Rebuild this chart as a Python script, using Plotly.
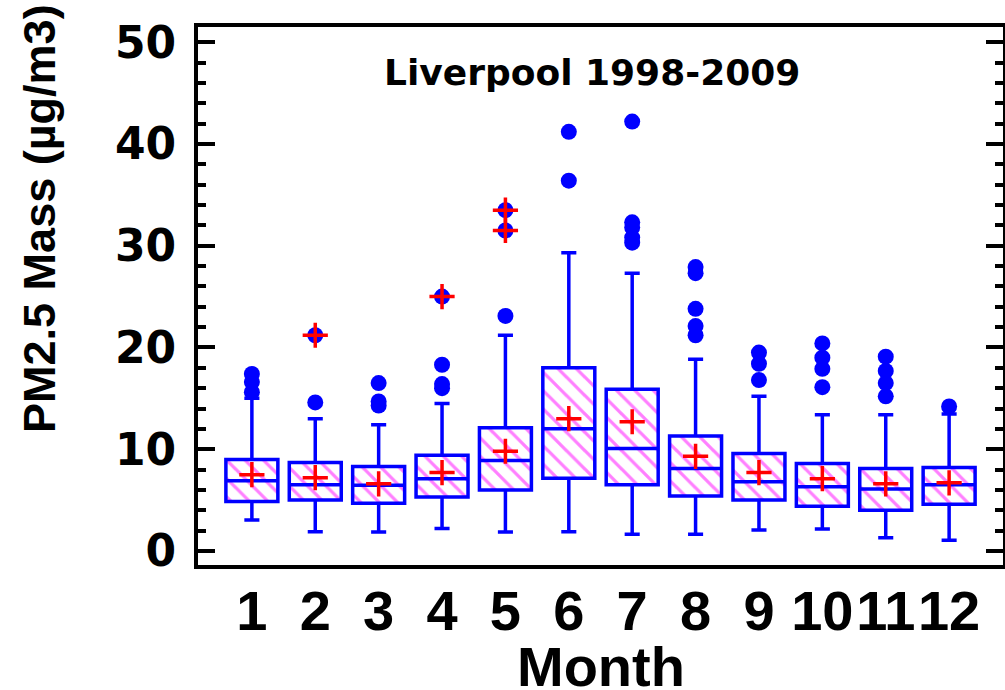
import plotly.graph_objects as go

# ---- data ----
months = [1, 2, 3, 4, 5, 6, 7, 8, 9, 10, 11, 12]
month_labels = ["1", "2", "3", "4", "5", "6", "7", "8", "9", "10", "11", "12"]
q1 = [4.85, 5.0, 4.7, 5.3, 6.0, 7.15, 6.5, 5.4, 5.0, 4.4, 4.0, 4.6]
median = [6.9, 6.5, 6.45, 7.1, 8.9, 12.0, 10.06, 8.1, 6.8, 6.3, 6.1, 6.5]
q3 = [9.0, 8.7, 8.3, 9.4, 12.1, 18.0, 15.9, 11.3, 9.57, 8.6, 8.1, 8.2]
whisker_low = [3.05, 1.9, 1.87, 2.2, 1.87, 1.9, 1.64, 1.64, 2.06, 2.16, 1.3, 1.05]
whisker_high = [15.0, 13.0, 12.4, 14.5, 21.2, 29.3, 27.3, 18.85, 15.2, 13.4, 13.4, 13.45]
means = [7.5, 7.2, 6.6, 7.7, 9.8, 13.0, 12.7, 9.3, 7.7, 7.1, 6.6, 6.7]

outliers = {
    1: [17.4, 16.6, 15.6],
    2: [21.2, 14.6],
    3: [16.5, 14.7, 14.3],
    4: [25.0, 18.3, 16.4, 16.0],
    5: [33.5, 31.5, 23.1],
    6: [41.2, 36.4],
    7: [42.2, 32.3, 31.8, 30.8, 30.3],
    8: [27.9, 27.3, 23.8, 22.1, 21.2],
    9: [19.5, 18.4, 16.8],
    10: [20.4, 19.0, 17.9, 16.1],
    11: [19.1, 17.7, 16.5, 15.2],
    12: [14.2],
}
# outliers that also carry a red cross in the reference
marked_months = [2, 4, 5, 5]
marked_values = [21.2, 25.0, 33.5, 31.5]

title_text = "Liverpool 1998-2009"
y_title = "PM2.5 Mass (µg/m3)"
x_title = "Month"

# ---- figure ----
BLUE = "#0000FF"
box_w = 0.82
y_range = [-1.38, 51.5]

fig = go.Figure()

# hatched box interiors
fig.add_trace(go.Bar(
    x=months,
    y=[b - a for a, b in zip(q1, q3)],
    base=q1,
    width=box_w,
    marker=dict(color="white",
                line=dict(width=0),
                pattern=dict(shape="\\", fgcolor="#FF00FF", bgcolor="white",
                             size=13, solidity=0.25)),
    showlegend=False, hoverinfo="skip",
))

# box outlines, medians and whiskers
fig.add_trace(go.Box(
    x=months, q1=q1, median=median, q3=q3,
    lowerfence=whisker_low, upperfence=whisker_high,
    width=box_w, whiskerwidth=0.29,
    line=dict(color=BLUE, width=3.5),
    fillcolor="rgba(0,0,0,0)",
    boxpoints=False, showlegend=False, hoverinfo="skip",
))

ox, oy = [], []
for m in months:
    for v in outliers[m]:
        ox.append(m)
        oy.append(v)
fig.add_trace(go.Scatter(
    x=ox, y=oy, mode="markers",
    marker=dict(symbol="circle", size=16, color=BLUE, line=dict(width=0)),
    showlegend=False,
))

cross_marker = dict(symbol="cross-thin", size=18, color="red",
                    line=dict(color="red", width=3.5))
fig.add_trace(go.Scatter(x=months, y=means, mode="markers",
                         marker=cross_marker, showlegend=False))
fig.add_trace(go.Scatter(x=marked_months, y=marked_values, mode="markers",
                         marker=cross_marker, showlegend=False))

# invisible trace so the right-hand tick axis is drawn
fig.add_trace(go.Scatter(x=[months[0]], y=[means[0]], yaxis="y2", mode="markers",
                         marker=dict(opacity=0), showlegend=False, hoverinfo="skip"))

tick_common = dict(
    range=y_range, tickmode="linear", tick0=0, dtick=10,
    ticks="inside", ticklen=17, tickwidth=4, tickcolor="black",
    minor=dict(dtick=2, tick0=0, ticks="inside", ticklen=8, tickwidth=4, tickcolor="black"),
    showgrid=False, zeroline=False, automargin=False,
)

fig.update_layout(
    width=1005, height=690,
    margin=dict(l=198, r=2, t=27, b=125),
    paper_bgcolor="white", plot_bgcolor="white",
    showlegend=False,
    xaxis=dict(
        range=[0.15, 12.85],
        tickmode="array", tickvals=months, ticktext=month_labels,
        ticks="", showgrid=False, zeroline=False, automargin=False,
        showline=True, linecolor="black", linewidth=4, mirror=True,
        tickfont=dict(family="Liberation Sans", size=56, color="black", weight="bold"),
        ticklabelstandoff=-6,
    ),
    yaxis=dict(
        **tick_common,
        showline=True, linecolor="black", linewidth=4, mirror=True,
        tickfont=dict(family="DejaVu Sans", size=44, color="black", weight="bold"),
        ticklabelstandoff=9,
    ),
    yaxis2=dict(
        **tick_common,
        overlaying="y", side="right", showticklabels=False, showline=False,
    ),
    annotations=[
        dict(text=title_text, xref="paper", yref="paper", x=0.489, y=0.915,
             xanchor="center", yanchor="middle", showarrow=False,
             font=dict(family="DejaVu Sans", size=36, color="black", weight="bold")),
        dict(text=y_title, xref="paper", yref="paper", x=-0.197, y=0.644,
             xanchor="center", yanchor="middle", showarrow=False, textangle=-90,
             font=dict(family="Liberation Sans", size=45, color="black", weight="bold")),
        dict(text=x_title, xref="paper", yref="paper", x=0.5, y=-0.188,
             xanchor="center", yanchor="middle", showarrow=False,
             font=dict(family="Liberation Sans", size=56, color="black", weight="bold")),
    ],
)

fig.write_html(
    "out.html",
    config={"displayModeBar": False},
    post_script="document.body.style.margin='0px';document.body.style.overflow='hidden';",
)
